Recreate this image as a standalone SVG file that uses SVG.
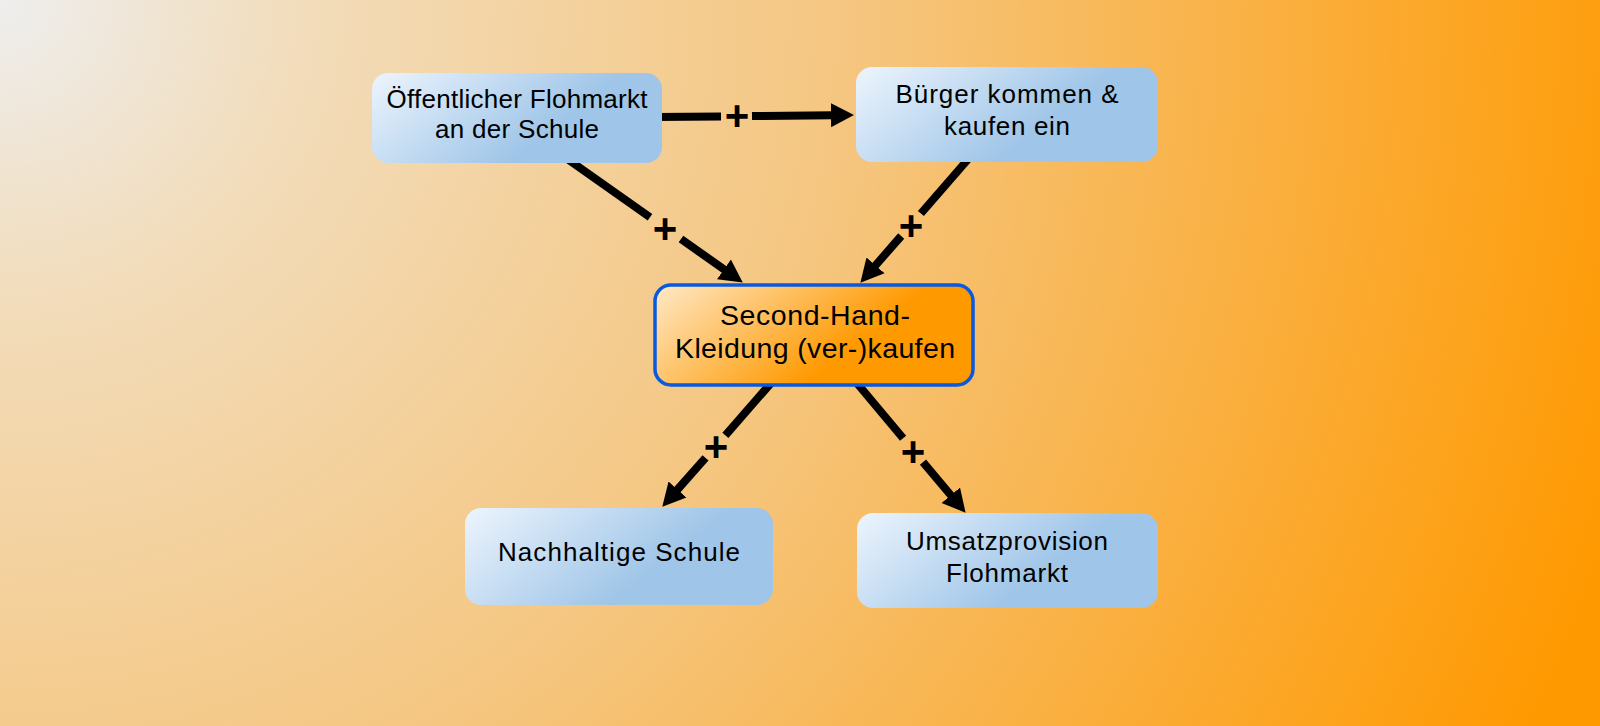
<svg xmlns="http://www.w3.org/2000/svg" width="1600" height="726" viewBox="0 0 1600 726">
  <defs>
    <radialGradient id="bg" gradientUnits="userSpaceOnUse" cx="0" cy="0" r="1700">
      <stop offset="0" stop-color="#eeeeee"/>
      <stop offset="0.18" stop-color="#f2dcba"/>
      <stop offset="0.5" stop-color="#f5c680"/>
      <stop offset="1" stop-color="#ff9900"/>
    </radialGradient>
    <linearGradient id="blue" x1="0" y1="0" x2="1" y2="0.4">
      <stop offset="0" stop-color="#edf5fd"/>
      <stop offset="0.75" stop-color="#9fc5e8"/>
      <stop offset="1" stop-color="#9fc5e8"/>
    </linearGradient>
    <linearGradient id="orange" x1="0" y1="0" x2="1" y2="0.4">
      <stop offset="0" stop-color="#fee9c8"/>
      <stop offset="0.75" stop-color="#ff9900"/>
      <stop offset="1" stop-color="#ff9900"/>
    </linearGradient>
    <marker id="arr" markerUnits="userSpaceOnUse" markerWidth="26" markerHeight="26" viewBox="0 -13 26 26" refX="2" refY="0" orient="auto">
      <path d="M0,-12 L23,0 L0,12 z" fill="#000"/>
    </marker>
  </defs>
  <style>
    .edge { stroke: #000; stroke-width: 8; fill: none; }
    .lbl { font-family: "Liberation Sans", Arial, sans-serif; font-size: 42px; font-weight: bold; fill: #000; text-anchor: middle; }
    .box { fill: url(#blue); }
    .txt { font-family: "Liberation Sans", Arial, sans-serif; font-size: 26px; fill: #000; text-anchor: middle; }
    .ctxt { font-family: "Liberation Sans", Arial, sans-serif; font-size: 28.5px; fill: #000; text-anchor: middle; }
  </style>
  <rect x="0" y="0" width="1600" height="726" fill="url(#bg)"/>

  <g id="connectors">
    <line class="edge" x1="655" y1="117" x2="721" y2="116.4"/>
    <line class="edge" x1="752" y1="116" x2="833" y2="115.2" marker-end="url(#arr)"/>
    <text class="lbl" x="737" y="130">+</text>

    <line class="edge" x1="566" y1="158" x2="650" y2="217.2"/>
    <line class="edge" x1="681" y1="239" x2="725.6" y2="270.5" marker-end="url(#arr)"/>
    <text class="lbl" x="665" y="243">+</text>

    <line class="edge" x1="970" y1="157" x2="920.9" y2="213.5"/>
    <line class="edge" x1="901.2" y1="236" x2="874.2" y2="266.9" marker-end="url(#arr)"/>
    <text class="lbl" x="911" y="240">+</text>

    <line class="edge" x1="771" y1="383" x2="725.4" y2="435.3"/>
    <line class="edge" x1="705.5" y1="457.8" x2="676.2" y2="491" marker-end="url(#arr)"/>
    <text class="lbl" x="716" y="461">+</text>

    <line class="edge" x1="856" y1="382" x2="903.1" y2="438.3"/>
    <line class="edge" x1="923" y1="462.1" x2="952.1" y2="496.7" marker-end="url(#arr)"/>
    <text class="lbl" x="913" y="466">+</text>
  </g>

  <g id="node-flohmarkt">
    <rect class="box" x="372" y="73" width="290" height="90" rx="16"/>
    <text class="txt" x="517" y="108" textLength="261">Öffentlicher Flohmarkt</text>
    <text class="txt" x="517" y="138" textLength="164">an der Schule</text>
  </g>
  <g id="node-buerger">
    <rect class="box" x="856" y="67" width="302" height="95" rx="16"/>
    <text class="txt" x="1007" y="103" textLength="223">Bürger kommen &amp;</text>
    <text class="txt" x="1007" y="135" textLength="126">kaufen ein</text>
  </g>
  <g id="node-center">
    <rect x="655" y="285" width="318" height="100" rx="16" fill="url(#orange)" stroke="#0a5ae0" stroke-width="3.5"/>
    <text class="ctxt" x="815" y="325" textLength="190">Second-Hand-</text>
    <text class="ctxt" x="815" y="358" textLength="280">Kleidung (ver-)kaufen</text>
  </g>
  <g id="node-nachhaltig">
    <rect class="box" x="465" y="508" width="308" height="97" rx="16"/>
    <text class="txt" x="619" y="561" textLength="242">Nachhaltige Schule</text>
  </g>
  <g id="node-umsatz">
    <rect class="box" x="857" y="513" width="301" height="95" rx="16"/>
    <text class="txt" x="1007" y="550" textLength="202">Umsatzprovision</text>
    <text class="txt" x="1007" y="582" textLength="122">Flohmarkt</text>
  </g>
</svg>
